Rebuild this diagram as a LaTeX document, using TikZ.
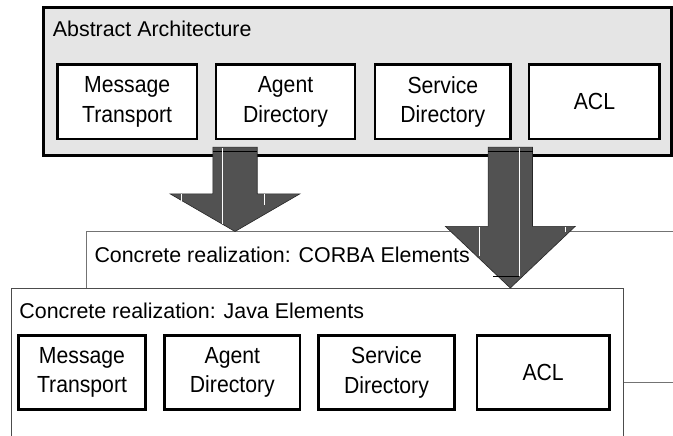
\documentclass[tikz,border=0pt]{standalone}
\usepackage{fontspec}
\setmainfont{Liberation Sans}
\newfontfamily\narrowsans[FakeStretch=0.91]{Liberation Sans}
\usetikzlibrary{positioning, calc}

\begin{document}
\begin{tikzpicture}[
    x=1pt, y=-1pt,
    % Layer box styles
    layerbox/.style={draw=black!70, line width=1pt, fill=white, outer sep=0pt, anchor=north west, minimum width=612pt, minimum height=151pt},
    abstractbox/.style={layerbox, draw=black, fill=black!10, line width=3pt, minimum width=628.2pt, minimum height=147.8pt},
    % Element boxes
    elembox/.style={draw, line width=2.5pt, fill=white, outer sep=0pt, inner sep=0pt, minimum height=74.4pt, align=center, font=\narrowsans\fontsize{23.3}{29.5}\selectfont},
    title/.style={anchor=base west, inner sep=0pt, font=\fontsize{21.4}{25}\selectfont},
    % Block arrow styles
    blockarrow/.style={draw=black!85, line width=0.6pt, fill=black!68, line join=miter},
    glint/.style={draw=white, line width=0.9pt}
]
\useasboundingbox (0,0) rectangle (673,436);
\clip (0,0) rectangle (673,436);

% Concrete layers, back to front
\node[layerbox, draw=black!55] (corba) at (86,231.5) {};
\node[title] (corba_title) at ([xshift=8.3pt,yshift=-31.2pt]corba.north west) {Concrete realization: CORBA Elements};
\node[layerbox] (java) at (11,288) {};
\node[title] (java_title) at ([xshift=8.3pt,yshift=-30.3pt]java.north west) {Concrete realization: Java Elements};

% Abstract layer
\node[abstractbox] (abstract) at (43.3,7.7) {};
\node[title] (abs_title) at ([xshift=9.4pt,yshift=-29.3pt]abstract.north west) {Abstract Architecture};

% Abstract elements
\node[elembox, minimum width=139.7pt, anchor=north west] (abs_mt) at ([xshift=14pt,yshift=-57pt]abstract.north west) {Message\\Transport};
\node[elembox, minimum width=139pt, right=19pt of abs_mt] (abs_ad) {Agent\\Directory};
\node[elembox, minimum width=135.7pt, right=20pt of abs_ad] (abs_sd) {Service\\Directory};
\node[elembox, minimum width=130.5pt, right=18.5pt of abs_sd] (abs_acl) {ACL};

% Java elements
\node[elembox, minimum width=126.6pt, anchor=north west] (java_mt) at ([xshift=7.7pt,yshift=-47.3pt]java.north west) {Message\\Transport};
\node[elembox, minimum width=135.3pt, right=19.4pt of java_mt] (java_ad) {Agent\\Directory};
\node[elembox, minimum width=135.6pt, right=18.7pt of java_ad] (java_sd) {Service\\Directory};
\node[elembox, minimum width=132.3pt, right=22.7pt of java_sd] (java_acl) {ACL};

% Realization arrows
\coordinate (tail_a) at (235,147.3);
\coordinate (tail_b) at (510.3,147.3);
\coordinate (tip_a) at (tail_a |- corba.north);
\coordinate (tip_b) at (tail_b |- java.north);

\foreach \src/\dst/\head in {tail_a/tip_a/37.7, tail_b/tip_b/61.7} {
    \draw[blockarrow] ([xshift=-22.2pt]\src) -- ([xshift=22.2pt]\src)
        -- ([xshift=22.2pt,yshift=\head pt]\dst) -- ([xshift=65pt,yshift=\head pt]\dst)
        -- (\dst) -- ([xshift=-65pt,yshift=\head pt]\dst)
        -- ([xshift=-22.2pt,yshift=\head pt]\dst) -- cycle;
    \draw[black] ([xshift=-22.2pt,yshift=-4.4pt]\src) -- ([xshift=22.2pt,yshift=-4.4pt]\src);
}

% White streaks in the arrows
\draw[glint] ([xshift=-13pt,yshift=-1pt]tail_a) -- ([xshift=-13pt,yshift=7.5pt]tip_a);
\draw[glint] ([xshift=-54pt,yshift=37.2pt]tip_a) -- ([xshift=-54pt,yshift=31pt]tip_a);
\draw[glint] ([xshift=29pt,yshift=37.2pt]tip_a) -- ([xshift=29pt,yshift=26.5pt]tip_a);
\draw[glint] ([xshift=9pt,yshift=-1pt]tail_b) -- ([xshift=9pt,yshift=12pt]tip_b);
\draw[glint] ([xshift=-31.3pt,yshift=61.2pt]tip_b) -- ([xshift=-31.3pt,yshift=32pt]tip_b);
\draw[glint] ([xshift=54.7pt,yshift=61.2pt]tip_b) -- ([xshift=54.7pt,yshift=56pt]tip_b);
\draw[black] ([xshift=-17pt,yshift=12pt]tip_b) -- ([xshift=9pt,yshift=12pt]tip_b);

\end{tikzpicture}
\end{document}
